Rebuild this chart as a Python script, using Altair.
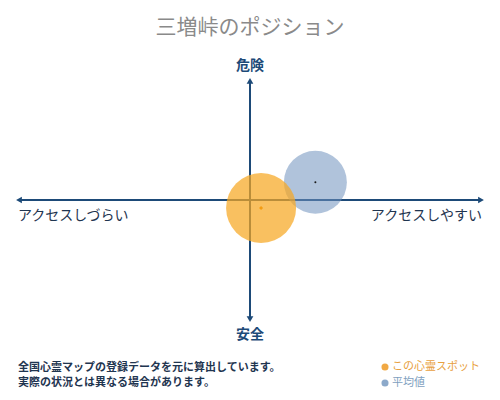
import altair as alt
import pandas as pd

# --- data ---
title_text = "三増峠のポジション"
y_top_label = "危険"
y_bottom_label = "安全"
x_left_label = "アクセスしづらい"
x_right_label = "アクセスしやすい"
note_lines = ["全国心霊マップの登録データを元に算出しています。", "実際の状況とは異なる場合があります。"]
legend_labels = ["この心霊スポット", "平均値"]

axis_min = [-1]
axis_max = [1]
spot_x = [0.048]
spot_y = [-0.067]
avg_x = [0.283]
avg_y = [0.149]

XD = [-1.0476, 1.0476]
YD = [-1.613, 1.613]
FONT = "Noto Sans CJK JP"
NAVY = "#1d4a78"

xs = alt.Scale(domain=XD, nice=False, zero=False)
ys = alt.Scale(domain=YD, nice=False, zero=False)

spot = pd.DataFrame({"x": spot_x, "y": spot_y})
avg = pd.DataFrame({"x": avg_x, "y": avg_y})
hline = pd.DataFrame({"x": axis_min, "x2": axis_max, "y": [0]})
vline = pd.DataFrame({"y": axis_min, "y2": axis_max, "x": [0]})

X = lambda: alt.X("x:Q", scale=xs, axis=None)
Y = lambda: alt.Y("y:Q", scale=ys, axis=None)

h = alt.Chart(hline).mark_rule(color=NAVY, strokeWidth=2).encode(X(), x2="x2:Q", y=Y())
v = alt.Chart(vline).mark_rule(color=NAVY, strokeWidth=2).encode(x=X(), y=Y(), y2="y2:Q")

def arrow(xv, yv, shape):
    df = pd.DataFrame({"x": xv, "y": yv})
    return alt.Chart(df).mark_point(shape=shape, filled=True, opacity=1, color=NAVY, size=45).encode(X(), Y())

arrows = [
    arrow(axis_min, [0], "triangle-left"),
    arrow(axis_max, [0], "triangle-right"),
    arrow([0], axis_max, "triangle-up"),
    arrow([0], axis_min, "triangle-down"),
]

avg_circle = alt.Chart(avg).mark_circle(color="#6f91bd", opacity=0.55).encode(X(), Y(), size=alt.value(3969))
spot_circle = alt.Chart(spot).mark_circle(color="#f7a823", opacity=0.72).encode(X(), Y(), size=alt.value(4900))
spot_dot = alt.Chart(spot).mark_point(shape="diamond", filled=True, opacity=1, color="#f39c12").encode(X(), Y(), size=alt.value(16))
avg_dot = alt.Chart(avg).mark_circle(color="#1a1a1a", opacity=1).encode(X(), Y(), size=alt.value(4))

def txt(s, x, y, size, color, align="center", weight="normal"):
    return alt.Chart(pd.DataFrame({"t": [s]})).mark_text(
        font=FONT, fontSize=size, color=color, align=align, baseline="middle", fontWeight=weight
    ).encode(x=alt.value(x), y=alt.value(y), text="t:N")

texts = [
    txt(title_text, 242, 20, 21, "#8a8a8a"),
    txt(y_top_label, 242, 58, 14, NAVY, weight="bold"),
    txt(y_bottom_label, 242, 327, 14, NAVY, weight="bold"),
    txt(x_left_label, 10, 208, 14, "#1f3550", align="left"),
    txt(x_right_label, 474, 208, 14, "#1f3550", align="right"),
    txt(note_lines[0], 10, 360, 11, "#1f3550", align="left", weight="bold"),
    txt(note_lines[1], 10, 375, 11, "#1f3550", align="left", weight="bold"),
    txt(legend_labels[0], 384, 359, 11, "#e8a040", align="left"),
    txt(legend_labels[1], 384, 375, 11, "#7f9fc0", align="left"),
]

leg = pd.DataFrame({"k": [0]})
leg_dots = [
    alt.Chart(leg).mark_circle(color="#f0a030", opacity=0.9, size=50).encode(x=alt.value(377), y=alt.value(359)),
    alt.Chart(leg).mark_circle(color="#7fa0c4", opacity=0.9, size=50).encode(x=alt.value(377), y=alt.value(375)),
]

chart = alt.layer(h, v, *arrows, avg_circle, spot_circle, spot_dot, avg_dot, *texts, *leg_dots).properties(
    width=484, height=384, autosize=alt.AutoSizeParams(type="none"), padding=0, background="white"
).configure_view(stroke=None)

chart.save("out.html", embed_options={"renderer": "svg", "actions": False})
